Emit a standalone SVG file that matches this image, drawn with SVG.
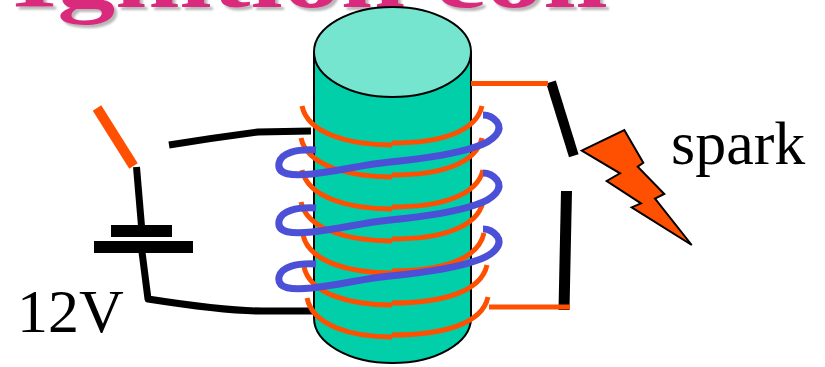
<svg xmlns="http://www.w3.org/2000/svg" width="825" height="367" viewBox="0 0 825 367">
  <style>
    .title { font-family: "Liberation Serif", "DejaVu Serif", serif; font-weight: bold; font-size: 84px; }
    .label { font-family: "Liberation Serif", "Times New Roman", serif; font-size: 62px; fill: #000; }
    .wire { fill: none; stroke: #000; stroke-width: 7; stroke-linejoin: round; }
    .sec { fill: none; stroke: #FF4F00; stroke-width: 5; }
    .pri { fill: none; stroke: #4B50D6; stroke-width: 7; stroke-linecap: butt; stroke-linejoin: round; }
  </style>
  <defs>
    <!-- soft grey drop shadow for the heading -->
    <filter id="shadow" x="-5%" y="-50%" width="110%" height="200%">
      <feDropShadow dx="3" dy="3" stdDeviation="1.2" flood-color="#9a9a9a" flood-opacity="0.7"/>
    </filter>
    <!-- one turn of the primary winding -->
    <path id="priTurn" d="M316,150 C296,149 281,153 279,163 C277,175 292,176 312,174 C340,171 360,165 390,162 C420,159 455,154 475,147 C495,141 503,130 497,122 C493,117 488,115 483,115"/>
  </defs>
  <rect width="825" height="367" fill="#fff"/>

  <!-- heading, mostly above the frame -->
  <g id="title">
    <text class="title" x="12" y="7" fill="#DA2A7D" filter="url(#shadow)" textLength="596" lengthAdjust="spacingAndGlyphs">Ignition coil</text>
  </g>

  <!-- iron core -->
  <g id="core">
    <path d="M314,52 L314,318 A78.5,45 0 0 0 471,318 L471,52 Z" fill="#00CFAA" stroke="#000" stroke-width="2"/>
    <ellipse cx="392.5" cy="52" rx="78.5" ry="45" fill="#76E5CF" stroke="#000" stroke-width="2"/>
  </g>

  <!-- battery and switch -->
  <g id="battery">
    <line x1="97" y1="108" x2="133.5" y2="166" stroke="#FF4F00" stroke-width="10"/>
    <rect x="111" y="225" width="61" height="12" fill="#000"/>
    <rect x="94" y="241" width="99" height="12" fill="#000"/>
  </g>

  <!-- spark gap -->
  <g id="sparkgap">
    <line x1="551" y1="82" x2="573.8" y2="155.8" stroke="#000" stroke-width="10"/>
    <line x1="566.5" y1="191" x2="564" y2="310" stroke="#000" stroke-width="11"/>
  </g>

  <!-- spark bolt -->
  <g id="bolt">
    <polygon points="581.7,150.7 624.3,130 643.3,162.7 637.7,166.7 664.3,194 655,198.7 691.7,245 631.7,207.3 641,203.3 606.7,181 620,173.3" fill="#FF4F00" stroke="#000" stroke-width="2" stroke-linejoin="miter"/>
  </g>

  <g id="connectors">
    <!-- primary circuit leads -->
    <path class="wire" d="M136.5,167 L141.5,226"/>
    <path class="wire" d="M169,145 C200,140 235,135 258,132 L311,131"/>
    <path class="wire" d="M142,252 L148,299 C180,304 230,311 262,311 L313,311"/>
    <!-- secondary circuit leads -->
    <path class="sec" d="M471,83.5 L548,83.5" stroke-width="4.5"/>
    <path class="sec" d="M489,307 L570,307"/>
  </g>

  <!-- secondary winding -->
  <g id="secondary">
    <path class="sec" d="M302,106 C308,134 350,145 392,145 M392,143 C440,143 476,132 482,106"/>
    <path class="sec" d="M301,138 C307,166 350,177 392,177 M392,175 C440,175 476,164 482,138"/>
    <path class="sec" d="M302,170 C308,198 350,209 392,209 M392,207 C440,207 477,196 483,170"/>
    <path class="sec" d="M301,202 C307,230 350,241 392,241 M392,239 C440,239 477,228 483,202"/>
    <path class="sec" d="M303,235 C309,262 350,273 392,273 M392,271 C441,271 478,260 484,233"/>
    <path class="sec" d="M304,267 C310,294 350,305 392,305 M392,303 C442,303 481,292 487,265"/>
    <path class="sec" d="M307,298 C313,326 352,337 392,337 M392,335 C443,335 482,324 488,297"/>
  </g>

  <!-- primary winding -->
  <g id="primary">
    <use href="#priTurn" class="pri"/>
    <use href="#priTurn" class="pri" transform="translate(0,58)"/>
    <use href="#priTurn" class="pri" transform="translate(0,114)"/>
  </g>

  <g id="labels">
    <text class="label" x="671" y="164">spark</text>
    <text class="label" x="17" y="332">12V</text>
  </g>
</svg>
